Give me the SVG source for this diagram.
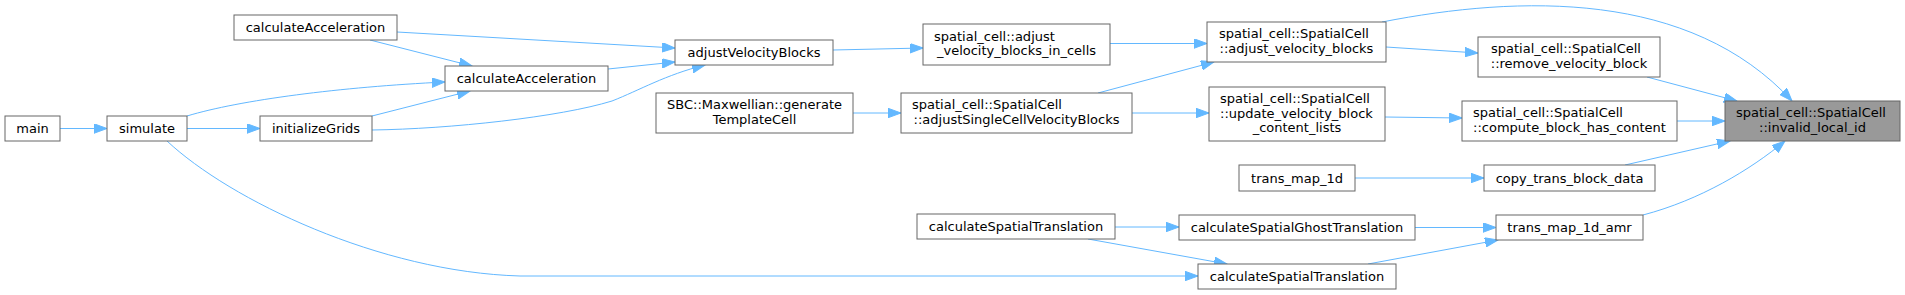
<svg xmlns="http://www.w3.org/2000/svg" width="1905" height="295" viewBox="0 0 1905 295">
<style>
.n rect{fill:#fff;stroke:#666;stroke-width:1}
.n.h rect{fill:#999}
.n text{font-family:"DejaVu Sans","Liberation Sans",sans-serif;font-size:13px;fill:#000}
.c{text-anchor:middle}
.e path{fill:none;stroke:#63b8ff;stroke-width:1;marker-end:url(#a)}
</style>
<defs>
<marker id="a" markerWidth="14" markerHeight="10" refX="13" refY="4.75" orient="auto" markerUnits="userSpaceOnUse">
<path d="M0,0 L13,4.75 L0,9.5 z" fill="#63b8ff" stroke="#63b8ff" stroke-width="1"/>
</marker>
</defs>
<g id="edges" class="e">
<path d="M60,128.5 L107,128.5"/>
<path d="M187,128.5 L260,128.5"/>
<path d="M187,116 C240,100 340,87 445,82"/>
<path d="M372,116 L470,91"/>
<path d="M370,40 L472,66"/>
<path d="M397,32 L675,48"/>
<path d="M608,69 L675,62"/>
<path d="M372,130 C450,129 560,117 612,101 C640,90 665,75 705,65"/>
<path d="M833,50 L923,48"/>
<path d="M853,113 L901,113"/>
<path d="M1110,43.5 L1207,43.5"/>
<path d="M1098,93 L1214,62"/>
<path d="M1132,113 L1209,113"/>
<path d="M1382,22 C1520,-5 1690,-10 1792,101"/>
<path d="M1386,47 L1478,53"/>
<path d="M1647,77 L1737,101"/>
<path d="M1385,117 L1462,118"/>
<path d="M1677,121 L1725,121"/>
<path d="M1625,165 L1730,141"/>
<path d="M1355,178 L1484,178"/>
<path d="M1643,215 C1700,200 1750,170 1785,141"/>
<path d="M1415,227.5 L1496,227.5"/>
<path d="M1368,264 L1498,240"/>
<path d="M1115,227 L1179,227"/>
<path d="M1088,239 L1227,264"/>
<path d="M167,141 C230,200 380,272 520,276 L1198,276"/>
</g>
<g id="n_main" class="n"><rect x="5" y="116" width="55" height="25"/><text class="c" x="32.5" y="133">main</text></g>
<g id="n_simulate" class="n"><rect x="107" y="116" width="80" height="25"/><text class="c" x="147" y="133">simulate</text></g>
<g id="n_initializeGrids" class="n"><rect x="260" y="116" width="112" height="25"/><text class="c" x="316" y="133">initializeGrids</text></g>
<g id="n_calcAccTop" class="n"><rect x="234" y="15" width="163" height="25"/><text class="c" x="315.5" y="32">calculateAcceleration</text></g>
<g id="n_calcAccMid" class="n"><rect x="445" y="66" width="163" height="25"/><text class="c" x="526.5" y="83">calculateAcceleration</text></g>
<g id="n_adjustVelocityBlocks" class="n"><rect x="675" y="40" width="158" height="25"/><text class="c" x="754" y="57">adjustVelocityBlocks</text></g>
<g id="n_generateTemplateCell" class="n"><rect x="656" y="93" width="197" height="40"/><text x="667" y="109">SBC::Maxwellian::generate</text><text class="c" x="754.5" y="123.5">TemplateCell</text></g>
<g id="n_adjust_in_cells" class="n"><rect x="923" y="24" width="187" height="41"/><text x="934" y="40.5">spatial_cell::adjust</text><text class="c" x="1016.5" y="55">_velocity_blocks_in_cells</text></g>
<g id="n_adjustSingle" class="n"><rect x="901" y="93" width="231" height="40"/><text x="912" y="109">spatial_cell::SpatialCell</text><text class="c" x="1016.5" y="123.5">::adjustSingleCellVelocityBlocks</text></g>
<g id="n_adjust_vb" class="n"><rect x="1207" y="22" width="179" height="40"/><text x="1219" y="38">spatial_cell::SpatialCell</text><text class="c" x="1296.5" y="52.5">::adjust_velocity_blocks</text></g>
<g id="n_update_lists" class="n"><rect x="1209" y="87" width="176" height="54"/><text x="1220" y="103">spatial_cell::SpatialCell</text><text x="1220" y="117.5">::update_velocity_block</text><text class="c" x="1297" y="132">_content_lists</text></g>
<g id="n_trans_map_1d" class="n"><rect x="1239" y="165" width="116" height="26"/><text class="c" x="1297" y="182.5">trans_map_1d</text></g>
<g id="n_calcSTleft" class="n"><rect x="917" y="214" width="198" height="25"/><text class="c" x="1016" y="231">calculateSpatialTranslation</text></g>
<g id="n_calcSGT" class="n"><rect x="1179" y="215" width="236" height="25"/><text class="c" x="1297" y="232">calculateSpatialGhostTranslation</text></g>
<g id="n_calcSTlow" class="n"><rect x="1198" y="264" width="198" height="25"/><text class="c" x="1297" y="281">calculateSpatialTranslation</text></g>
<g id="n_remove_vb" class="n"><rect x="1478" y="37" width="182" height="40"/><text x="1491" y="53">spatial_cell::SpatialCell</text><text class="c" x="1569" y="67.5">::remove_velocity_block</text></g>
<g id="n_compute_content" class="n"><rect x="1462" y="101" width="215" height="40"/><text x="1473" y="117">spatial_cell::SpatialCell</text><text class="c" x="1569.5" y="131.5">::compute_block_has_content</text></g>
<g id="n_copy_trans" class="n"><rect x="1484" y="165" width="171" height="26"/><text class="c" x="1569.5" y="182.5">copy_trans_block_data</text></g>
<g id="n_trans_map_amr" class="n"><rect x="1496" y="215" width="147" height="25"/><text class="c" x="1569.5" y="232">trans_map_1d_amr</text></g>
<g id="n_invalid_local_id" class="n h"><rect x="1725" y="101" width="175" height="40"/><text x="1736" y="117">spatial_cell::SpatialCell</text><text class="c" x="1812.5" y="131.5">::invalid_local_id</text></g>
</svg>
